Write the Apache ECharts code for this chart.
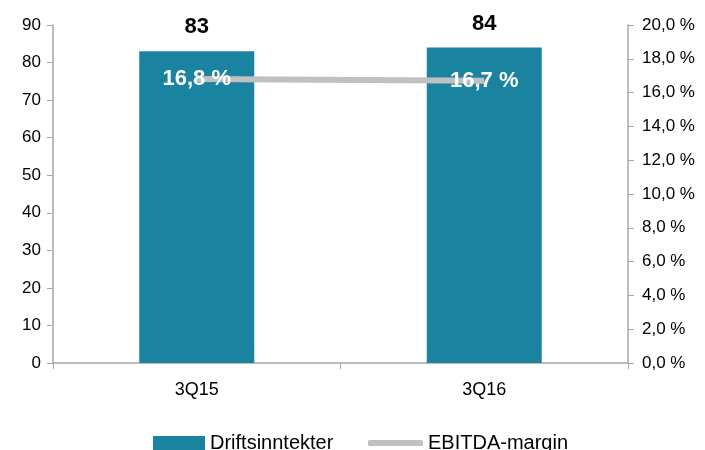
<!DOCTYPE html>
<html>
<head>
<meta charset="utf-8">
<script src="https://cdn.jsdelivr.net/npm/echarts@6/dist/echarts.min.js"></script>
<style>
html, body { margin: 0; padding: 0; background: #fff; }
#chart { width: 705px; height: 450px; }
</style>
</head>
<body>
<div id="chart"></div>
<script>
var categories = ["3Q15", "3Q16"];
var revenue = [83, 84];
var margin = [16.8, 16.7];

var font = "'Liberation Sans', Arial, sans-serif";
var axisGray = "#a6a6a6";
var barColor = "#1a839f";
var lineColor = "#c0c0c0";

function pct(v) {
    return v.toFixed(1).replace(".", ",") + " %";
}

var chart = echarts.init(document.getElementById("chart"));
chart.setOption({
    animation: false,
    textStyle: { fontFamily: font },
    grid: { left: 53, right: 77, top: 25, bottom: 87 },
    legend: [{
        left: 153, top: 433, padding: 0,
        itemWidth: 52, itemHeight: 14,
        textStyle: { fontSize: 20, color: "#000", fontFamily: font },
        data: [{ name: "Driftsinntekter", icon: "rect" }]
    }, {
        left: 368, top: 433, padding: 0,
        itemWidth: 55, itemHeight: 6,
        textStyle: { fontSize: 20, color: "#000", fontFamily: font },
        data: [{
            name: "EBITDA-margin", icon: "roundRect",
            itemStyle: { color: lineColor, opacity: 1 }
        }]
    }],
    xAxis: {
        type: "category",
        data: categories,
        axisLine: { lineStyle: { color: axisGray, width: 1.5 } },
        axisTick: { show: true, length: 6, lineStyle: { color: axisGray } },
        axisLabel: { fontSize: 18, color: "#000", margin: 18 }
    },
    yAxis: [{
        type: "value",
        min: 0, max: 90, interval: 10,
        splitLine: { show: false },
        axisLine: { show: true, lineStyle: { color: axisGray, width: 1.5 } },
        axisTick: { show: true, length: 6, lineStyle: { color: axisGray } },
        axisLabel: { fontSize: 17, color: "#000", margin: 12 }
    }, {
        type: "value",
        min: 0, max: 20, interval: 2,
        splitLine: { show: false },
        axisLine: { show: true, lineStyle: { color: axisGray, width: 1.5 } },
        axisTick: { show: true, length: 6, lineStyle: { color: axisGray } },
        axisLabel: { fontSize: 17, color: "#000", margin: 14, formatter: pct }
    }],
    series: [{
        name: "Driftsinntekter",
        type: "bar",
        data: revenue,
        barWidth: "40%",
        itemStyle: { color: barColor },
        label: {
            show: true, position: "top", distance: 13,
            fontSize: 22, fontWeight: "bold", color: "#000"
        }
    }, {
        name: "EBITDA-margin",
        type: "line",
        yAxisIndex: 1,
        data: margin,
        symbol: "circle",
        symbolSize: 0.1,
        showSymbol: true,
        lineStyle: { color: lineColor, width: 6 },
        itemStyle: { color: "transparent" },
        label: {
            show: true, position: "inside",
            fontSize: 22, fontWeight: "bold", color: "#fff",
            formatter: function (p) { return pct(p.value); }
        },
        labelLayout: { hideOverlap: false }
    }]
});
</script>
</body>
</html>
